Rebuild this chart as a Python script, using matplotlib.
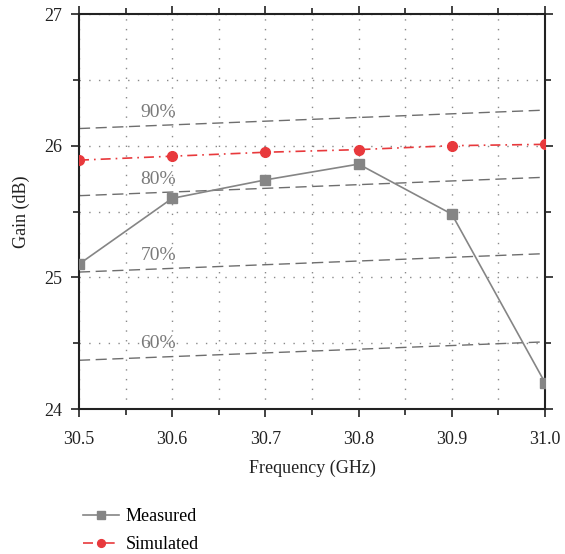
import matplotlib.pyplot as plt
from matplotlib.ticker import MultipleLocator

plt.rcParams["font.family"] = ["Liberation Serif", "DejaVu Serif"]

freq = [30.5, 30.6, 30.7, 30.8, 30.9, 31.0]
measured = [25.10, 25.60, 25.74, 25.86, 25.48, 24.20]
simulated = [25.89, 25.92, 25.95, 25.97, 26.00, 26.01]

# aperture-efficiency reference lines (gain at band edges)
eff_labels = ["90%", "80%", "70%", "60%"]
eff_freq = [30.5, 31.0]
eff_gain = [
    [26.13, 26.27],
    [25.62, 25.76],
    [25.04, 25.18],
    [24.37, 24.51],
]

fig = plt.figure(figsize=(5.65, 5.54), dpi=100)
ax = fig.add_axes([79 / 565, 1 - 409 / 554, 466 / 565, 395 / 554])

for lab, g in zip(eff_labels, eff_gain):
    ax.plot(eff_freq, g, color="#6e6e6e", lw=1.0, ls=(0, (8, 4)), zorder=2)
    ax.text(30.585, g[0] + 0.125, lab, color="#7a7a7a", fontsize=14,
            ha="center", va="center", zorder=3)

ax.plot(freq, measured, color="#858585", lw=1.2, marker="s", ms=7,
        mfc="#858585", mec="#858585", label="Measured", zorder=4)
ax.plot(freq, simulated, color="#e8393c", lw=1.2, ls=(0, (6, 3, 1, 3)),
        marker="o", ms=7, mfc="#e8393c", mec="#e8393c", label="Simulated",
        zorder=5)

ax.set_xlim(30.5, 31.0)
ax.set_ylim(24, 27)
ax.xaxis.set_major_locator(MultipleLocator(0.1))
ax.xaxis.set_minor_locator(MultipleLocator(0.05))
ax.yaxis.set_major_locator(MultipleLocator(1))
ax.yaxis.set_minor_locator(MultipleLocator(0.5))
ax.set_xticklabels([f"{v:.1f}" for v in ax.get_xticks()])

ax.grid(True, which="both", color="#8a8a8a", lw=1.0, ls=(0, (1, 6)))
ax.tick_params(which="both", direction="out", top=True, right=True,
               labeltop=False, labelright=False, width=1.2, labelsize=13,
               colors="#222222")
ax.tick_params(which="major", length=6)
ax.tick_params(which="minor", length=4)
ax.tick_params(axis="x", which="major", pad=10)
ax.tick_params(axis="y", which="major", pad=6)
for s in ax.spines.values():
    s.set_linewidth(1.5)
    s.set_color("#222222")

ax.set_xlabel("Frequency (GHz)", fontsize=13, color="#222222", labelpad=8)
ax.set_ylabel("Gain (dB)", fontsize=13, color="#222222", labelpad=10)

fig.legend(loc="upper left", bbox_to_anchor=(76 / 565, 1 - 501 / 554),
           frameon=False, fontsize=13, handlelength=2.0, handletextpad=0.35,
           labelspacing=0.6, markerscale=0.8, borderaxespad=0)

fig.savefig("out.png", dpi=100)
